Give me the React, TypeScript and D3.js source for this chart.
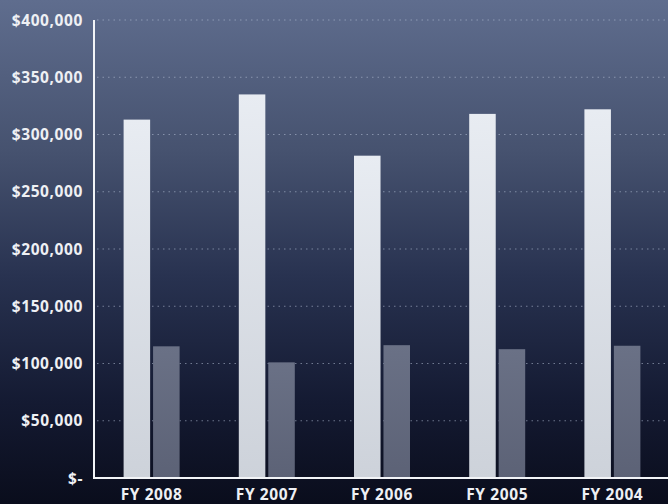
import React from "react";
import * as d3 from "d3";

const W = 668;
const H = 504;

const categories = ["FY 2008", "FY 2007", "FY 2006", "FY 2005", "FY 2004"];
const seriesKeys = ["primary", "secondary"];
const primaryValues = [313000, 335000, 281500, 318000, 322000];
const secondaryValues = [115000, 101000, 116000, 112500, 115500];
const yTicks = [0, 50000, 100000, 150000, 200000, 250000, 300000, 350000, 400000];

const margin = { left: 94, top: 20, bottom: 478, right: 670 };

export default function App() {
  const x0 = d3
    .scaleBand<string>()
    .domain(categories)
    .range([margin.left, margin.right])
    .paddingInner(0.514)
    .paddingOuter(0.257);
  const x1 = d3
    .scaleBand<string>()
    .domain(seriesKeys)
    .range([0, x0.bandwidth()])
    .paddingInner(0.1);
  const y = d3.scaleLinear().domain([0, 400000]).range([margin.bottom, margin.top]);

  const fmt = (v: number) => (v === 0 ? "$-" : "$" + d3.format(",")(v));
  const values: Record<string, number[]> = { primary: primaryValues, secondary: secondaryValues };

  const font = "'Open Sans', 'DejaVu Sans', sans-serif";

  return (
    <svg
      width={W}
      height={H}
      style={{ position: "absolute", left: 0, top: 0, display: "block" }}
    >
      <defs>
        <linearGradient id="bg" x1="0" y1="0" x2="0" y2="1">
          <stop offset="0" stopColor="#5f6d8e" />
          <stop offset="0.3" stopColor="#46526f" />
          <stop offset="0.55" stopColor="#283250" />
          <stop offset="0.8" stopColor="#141a32" />
          <stop offset="1" stopColor="#0a0d1c" />
        </linearGradient>
        <linearGradient id="barLight" x1="0" y1="0" x2="0" y2="1">
          <stop offset="0" stopColor="#e8ecf2" />
          <stop offset="1" stopColor="#cdd2da" />
        </linearGradient>
        <linearGradient id="barDark" x1="0" y1="0" x2="0" y2="1">
          <stop offset="0" stopColor="#6a7186" />
          <stop offset="1" stopColor="#5c6276" />
        </linearGradient>
      </defs>
      <rect x={0} y={0} width={W} height={H} fill="url(#bg)" />

      {/* dotted horizontal gridlines */}
      {yTicks
        .filter((t) => t > 0)
        .map((t) => (
          <line
            key={"g" + t}
            x1={margin.left + 3}
            x2={W}
            y1={y(t)}
            y2={y(t)}
            stroke="#b8c2d8"
            strokeOpacity={0.55}
            strokeWidth={1}
            strokeDasharray="1.5 4"
          />
        ))}

      {/* bars */}
      {categories.map((c, i) => (
        <g key={c} transform={`translate(${x0(c)},0)`}>
          {seriesKeys.map((k) => (
            <rect
              key={k}
              x={x1(k)}
              y={y(values[k][i])}
              width={x1.bandwidth()}
              height={y(0) - y(values[k][i])}
              fill={k === "primary" ? "url(#barLight)" : "url(#barDark)"}
            />
          ))}
        </g>
      ))}

      {/* axes */}
      <line x1={margin.left} x2={margin.left} y1={margin.top} y2={margin.bottom + 1} stroke="#f2f4f7" strokeWidth={2} />
      <line x1={margin.left - 1} x2={W} y1={margin.bottom} y2={margin.bottom} stroke="#f2f4f7" strokeWidth={2} />

      {/* y tick labels */}
      {yTicks.map((t) => (
        <text
          key={"t" + t}
          x={83}
          y={y(t)}
          dy="0.36em"
          textAnchor="end"
          fill="#eef0f4"
          fontFamily={font}
          fontWeight={700}
          fontSize={15.5}
          letterSpacing={0.6}
        >
          {fmt(t)}
        </text>
      ))}

      {/* x category labels */}
      {categories.map((c) => (
        <text
          key={"x" + c}
          x={(x0(c) as number) + x0.bandwidth() / 2}
          y={500}
          textAnchor="middle"
          fill="#eef0f4"
          fontFamily={font}
          fontWeight={700}
          fontSize={15.5}
          letterSpacing={0.6}
        >
          {c}
        </text>
      ))}
    </svg>
  );
}
